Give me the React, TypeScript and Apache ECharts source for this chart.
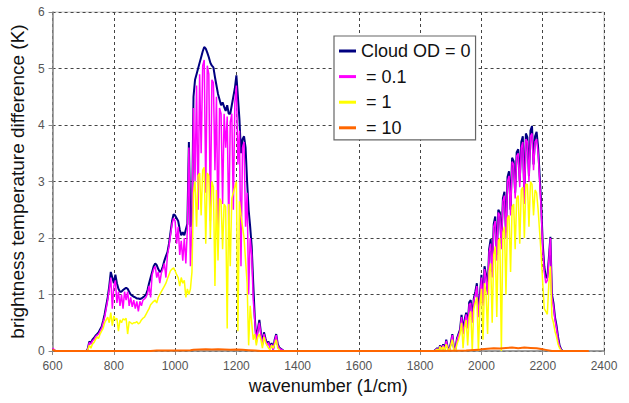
import React, { useEffect, useRef } from "react";
import * as echarts from "echarts";

// x-axis ticks
const xTicks = [600, 800, 1000, 1200, 1400, 1600, 1800, 2000, 2200, 2400];
const yTicks = [0, 1, 2, 3, 4, 5, 6];

const seriesNames = ["Cloud OD = 0", "= 0.1", "= 1", "= 10"];

// Band 1: wavenumbers 710..1360, sampled every 5 cm-1
const band1Start = 710;
const band1Step = 5;
const band1OD0 = [
  0, 0.04, 0.17, 0.14, 0.2, 0.23, 0.27, 0.3, 0.33, 0.38, // 710
  0.43, 0.53, 0.65, 0.8, 0.95, 1.15, 1.4, 1.3, 1.2, 1.35, // 760
  1.2, 1.1, 1.05, 1.05, 1.08, 1.1, 1.12, 1.1, 1.05, 1.0, // 810
  0.98, 0.96, 0.95, 0.93, 0.93, 0.92, 0.93, 0.95, 0.97, 1.0, // 860
  1.08, 1.2, 1.3, 1.4, 1.5, 1.55, 1.52, 1.45, 1.4, 1.42, // 910
  1.5, 1.6, 1.68, 1.75, 1.9, 2.1, 2.3, 2.42, 2.4, 2.35, // 960
  2.3, 2.15, 2.05, 2.1, 2.05, 2.15, 2.25, 3.7, 2.2, 2.3, // 1010
  4.5, 4.8, 4.9, 5.0, 5.1, 5.2, 5.3, 5.38, 5.35, 5.28, // 1060
  5.2, 5.1, 5.05, 5.02, 4.85, 4.7, 4.55, 4.45, 4.35, 4.4, // 1110
  4.32, 4.25, 4.35, 4.2, 4.2, 4.35, 4.5, 4.65, 4.88, 4.5, // 1160
  4.1, 3.5, 3.75, 3.8, 3.6, 3.0, 2.5, 2.2, 1.85, 1.2, // 1210
  0.6, 0.2, 0.38, 0.55, 0.33, 0.12, 0.33, 0.22, 0.12, 0.17, // 1260
  0.07, 0.14, 0.03, 0.2, 0.3, 0.12, 0.06, 0.04, 0.02, 0, // 1310
  0, // 1360
];
const band1OD01 = [
  0, 0.03, 0.15, 0.12, 0.18, 0.2, 0.25, 0.28, 0.3, 0.35, // 710
  0.4, 0.5, 0.6, 0.75, 0.9, 1.1, 1.3, 0.75, 1.15, 1.25, // 760
  0.85, 1.05, 0.8, 1.0, 0.75, 1.05, 0.9, 1.05, 0.8, 0.95, // 810
  0.78, 0.9, 0.75, 0.88, 0.7, 0.88, 0.8, 0.9, 0.92, 0.95, // 860
  1.02, 1.15, 0.95, 1.35, 1.45, 1.5, 1.3, 1.4, 1.2, 1.38, // 910
  1.45, 1.55, 1.3, 1.7, 1.85, 2.05, 2.25, 2.35, 2.3, 1.9, // 960
  2.2, 1.7, 1.95, 1.6, 2.0, 1.55, 2.15, 3.6, 1.5, 2.2, // 1010
  4.3, 3.0, 4.7, 2.5, 4.9, 3.5, 5.05, 5.15, 2.8, 5.05, // 1060
  4.9, 2.3, 4.8, 4.75, 3.2, 4.5, 2.0, 4.3, 4.2, 2.6, // 1110
  4.2, 3.6, 4.15, 2.2, 4.05, 4.2, 2.5, 4.4, 4.7, 3.3, // 1160
  3.9, 1.5, 3.6, 3.7, 2.2, 2.8, 1.0, 2.0, 1.7, 0.9, // 1210
  0.55, 0.15, 0.35, 0.5, 0.3, 0.1, 0.3, 0.2, 0.1, 0.15, // 1260
  0.05, 0.12, 0.02, 0.18, 0.28, 0.1, 0.05, 0.03, 0.02, 0, // 1310
  0, // 1360
];
const band1OD1 = [
  0, 0.02, 0.1, 0.05, 0.12, 0.15, 0.2, 0.25, 0.22, 0.3, // 710
  0.35, 0.4, 0.5, 0.55, 0.6, 0.5, 0.68, 0.45, 0.62, 0.55, // 760
  0.58, 0.35, 0.55, 0.5, 0.57, 0.55, 0.58, 0.3, 0.52, 0.5, // 810
  0.48, 0.5, 0.5, 0.52, 0.48, 0.5, 0.55, 0.58, 0.6, 0.65, // 860
  0.7, 0.75, 0.82, 0.85, 0.88, 0.9, 0.85, 0.95, 1.0, 1.05, // 910
  1.1, 1.15, 1.2, 1.28, 1.35, 1.42, 1.45, 1.47, 1.42, 1.35, // 960
  1.3, 1.15, 1.3, 1.2, 1.25, 0.95, 1.1, 1.0, 1.1, 1.4, // 1010
  2.8, 3.0, 2.2, 3.1, 3.15, 2.4, 3.2, 3.25, 1.9, 3.15, // 1060
  3.1, 2.0, 3.0, 2.9, 1.15, 2.85, 1.6, 2.7, 2.65, 1.8, // 1110
  2.6, 2.55, 0.4, 2.6, 1.5, 2.7, 2.8, 2.9, 3.0, 0.35, // 1160
  2.65, 2.4, 2.2, 2.0, 1.6, 1.2, 0.1, 0.8, 0.5, 0.2, // 1210
  0.3, 0.1, 0.25, 0.3, 0.2, 0.05, 0.25, 0.15, 0.1, 0.05, // 1260
  0.02, 0.1, 0.05, 0.12, 0.2, 0.05, 0.02, 0, 0, 0, // 1310
  0, // 1360
];

// Band 2: wavenumbers 1845..2265, sampled every 5 cm-1
const band2Start = 1845;
const band2Step = 5;
const band2OD0 = [
  0, 0.02, 0.05, 0.01, 0.1, 0.03, 0.12, 0.02, 0.2, 0.05, // 1845
  0.02, 0.14, 0.3, 0.05, 0.03, 0.22, 0.3, 0.38, 0.64, 0.35, // 1895
  0.55, 0.68, 0.45, 0.86, 0.9, 0.55, 0.93, 1.05, 1.2, 0.65, // 1945
  1.0, 1.35, 0.85, 1.5, 1.35, 1.05, 1.8, 1.98, 1.4, 2.25, // 1995
  2.38, 1.7, 2.5, 2.45, 1.9, 2.7, 2.82, 2.1, 3.08, 3.18, // 2045
  2.5, 3.42, 3.36, 2.8, 3.52, 3.57, 3.0, 3.7, 3.8, 2.7, // 2095
  3.85, 3.78, 3.1, 3.9, 3.98, 3.3, 3.8, 3.88, 3.6, 3.1, // 2145
  2.6, 1.9, 1.5, 1.3, 1.3, 1.65, 2.02, 1.0, 0.85, 0.6, // 2195
  0.45, 0.25, 0.1, 0.03, 0, // 2245
];
const band2OD01 = [
  0, 0.02, 0.04, 0.01, 0.09, 0.03, 0.1, 0.02, 0.18, 0.05, // 1845
  0.02, 0.12, 0.28, 0.05, 0.03, 0.2, 0.28, 0.35, 0.6, 0.3, // 1895
  0.5, 0.65, 0.4, 0.82, 0.85, 0.5, 0.9, 1.0, 1.15, 0.6, // 1945
  0.95, 1.3, 0.8, 1.45, 1.3, 1.0, 1.75, 1.9, 1.3, 2.2, // 1995
  2.3, 1.6, 2.45, 2.4, 1.8, 2.65, 2.75, 2.0, 3.0, 3.1, // 2045
  2.4, 3.35, 3.3, 2.7, 3.45, 3.5, 2.9, 3.6, 3.7, 2.6, // 2095
  3.75, 3.7, 3.0, 3.8, 3.85, 3.2, 3.7, 3.75, 3.5, 3.0, // 2145
  2.5, 1.8, 1.4, 1.2, 1.25, 1.6, 2.0, 0.95, 0.8, 0.55, // 2195
  0.4, 0.2, 0.08, 0.02, 0, // 2245
];
const band2OD1 = [
  0, 0.01, 0.03, 0, 0.08, 0.02, 0.08, 0, 0.12, 0.03, // 1845
  0, 0.1, 0.2, 0.02, 0, 0.12, 0.2, 0.3, 0.5, 0.05, // 1895
  0.4, 0.55, 0.1, 0.6, 0.7, 0.0, 0.75, 0.85, 0.95, 0.0, // 1945
  0.8, 1.1, 0.2, 1.2, 1.0, 0.3, 1.4, 1.55, 0.5, 1.7, // 1995
  1.85, 0.6, 1.95, 2.0, 0.0, 2.1, 2.2, 1.0, 2.35, 2.4, // 2045
  1.4, 2.55, 2.6, 1.8, 2.7, 2.75, 1.9, 2.85, 2.9, 2.0, // 2095
  2.95, 2.95, 2.2, 3.0, 2.95, 2.4, 2.85, 2.8, 2.5, 2.1, // 2145
  1.7, 1.2, 0.75, 0.7, 0.65, 1.2, 1.5, 0.6, 0.5, 0.35, // 2195
  0.25, 0.12, 0.05, 0.01, 0, // 2245
];

// Baseline points outside the bands (wavenumber, value) for OD 0 / 0.1 / 1
const edgeWn = [600, 610, 1840, 2350];
const edgeOD0 = [0.03, 0, 0, 0];
const edgeOD01 = [0.05, 0, 0, 0];
const edgeOD1 = [0.02, 0, 0, 0];

// Cloud OD = 10 (near zero everywhere)
const od10Wn = [600, 610, 700, 920, 940, 1000, 1050, 1060, 1080, 1100, 1120, 1140, 1160, 1180, 1200, 1220, 1240, 1260, 1280, 1400, 1800, 1850, 1950, 1990, 2000, 2020, 2040, 2060, 2080, 2100, 2120, 2140, 2160, 2180, 2200, 2210, 2230, 2350];
const od10Val = [0.02, 0, 0, 0, 0.01, 0.01, 0.015, 0.02, 0.025, 0.03, 0.025, 0.03, 0.025, 0.02, 0.025, 0.02, 0.015, 0.01, 0, 0, 0, 0, 0.01, 0.02, 0.03, 0.04, 0.05, 0.045, 0.055, 0.06, 0.05, 0.06, 0.055, 0.05, 0.03, 0.02, 0, 0];

function buildSeries(edge: number[], b1: number[], b2: number[]): number[][] {
  const pts: number[][] = [];
  pts.push([edgeWn[0], edge[0]], [edgeWn[1], edge[1]]);
  b1.forEach((v, i) => pts.push([band1Start + i * band1Step, v]));
  pts.push([edgeWn[2], edge[2]]);
  b2.forEach((v, i) => pts.push([band2Start + i * band2Step, v]));
  pts.push([edgeWn[3], edge[3]]);
  return pts;
}

const FONT = "'Liberation Sans', Arial, sans-serif";

export default function App() {
  const ref = useRef<HTMLDivElement>(null);
  useEffect(() => {
    if (!ref.current) return;
    const chart = echarts.init(ref.current, undefined, { renderer: "svg" });
    const colors = ["#000080", "#FF00FF", "#FFFF00", "#FF6600"];
    const data = [
      buildSeries(edgeOD0, band1OD0, band2OD0),
      buildSeries(edgeOD01, band1OD01, band2OD01),
      buildSeries(edgeOD1, band1OD1, band2OD1),
      od10Wn.map((w, i) => [w, od10Val[i]]),
    ];
    const widths = [2, 1.5, 1.5, 2];
    chart.setOption({
      animation: false,
      backgroundColor: "#fff",
      grid: {
        left: 52,
        right: 25,
        top: 12,
        bottom: 52,
        show: true,
        borderColor: "#c8c8c8",
        borderWidth: 1,
        backgroundColor: "#fff",
      },
      legend: {
        orient: "vertical",
        left: 334,
        top: 36,
        padding: [6, 5, 3, 5],
        itemGap: 7.6,
        itemWidth: 17,
        itemHeight: 3,
        backgroundColor: "#fff",
        borderColor: "#666",
        borderWidth: 1.2,
        textStyle: { fontSize: 18, fontFamily: FONT, color: "#111" },
        formatter: (n: string) => (n === seriesNames[0] ? n : "\u00A0" + n),
        data: seriesNames.map((n, i) => ({ name: n, icon: "rect", itemStyle: { color: colors[i] } })),
      },
      xAxis: {
        type: "value",
        min: xTicks[0],
        max: xTicks[xTicks.length - 1],
        interval: 200,
        name: "wavenumber (1/cm)",
        nameLocation: "middle",
        nameGap: 22,
        nameTextStyle: { fontSize: 18, fontFamily: FONT, color: "#111" },
        axisLine: { onZero: false, lineStyle: { color: "#888", width: 1.5 } },
        axisTick: { show: true, length: 4, lineStyle: { color: "#888" } },
        axisLabel: {
          fontSize: 12,
          fontFamily: FONT,
          color: "#555",
          margin: 9,
          formatter: (v: number) => String(v),
        },
        splitLine: { show: true, lineStyle: { color: "#444", type: [3, 3], width: 1 } },
      },
      yAxis: {
        type: "value",
        min: yTicks[0],
        max: yTicks[yTicks.length - 1],
        interval: 1,
        name: "brightness temperature difference (K)",
        nameLocation: "middle",
        nameGap: 20,
        nameTextStyle: { fontSize: 19, fontFamily: FONT, color: "#111" },
        axisLine: { show: true, lineStyle: { color: "#888", width: 1.5 } },
        axisTick: { show: true, length: 4, lineStyle: { color: "#888" } },
        axisLabel: {
          fontSize: 12,
          fontFamily: FONT,
          color: "#555",
          margin: 8,
          formatter: (v: number) => String(v),
        },
        splitLine: { show: true, lineStyle: { color: "#444", type: [3, 3], width: 1 } },
      },
      series: seriesNames.map((n, i) => ({
        name: n,
        type: "line",
        data: data[i],
        showSymbol: false,
        symbol: "none",
        color: colors[i],
        lineStyle: { color: colors[i], width: widths[i] },
        z: 2 + i,
        silent: true,
      })),
    });
    return () => chart.dispose();
  }, []);
  return (
    <div
      ref={ref}
      style={{ position: "fixed", left: 0, top: 0, width: 629, height: 403, background: "#fff" }}
    />
  );
}
